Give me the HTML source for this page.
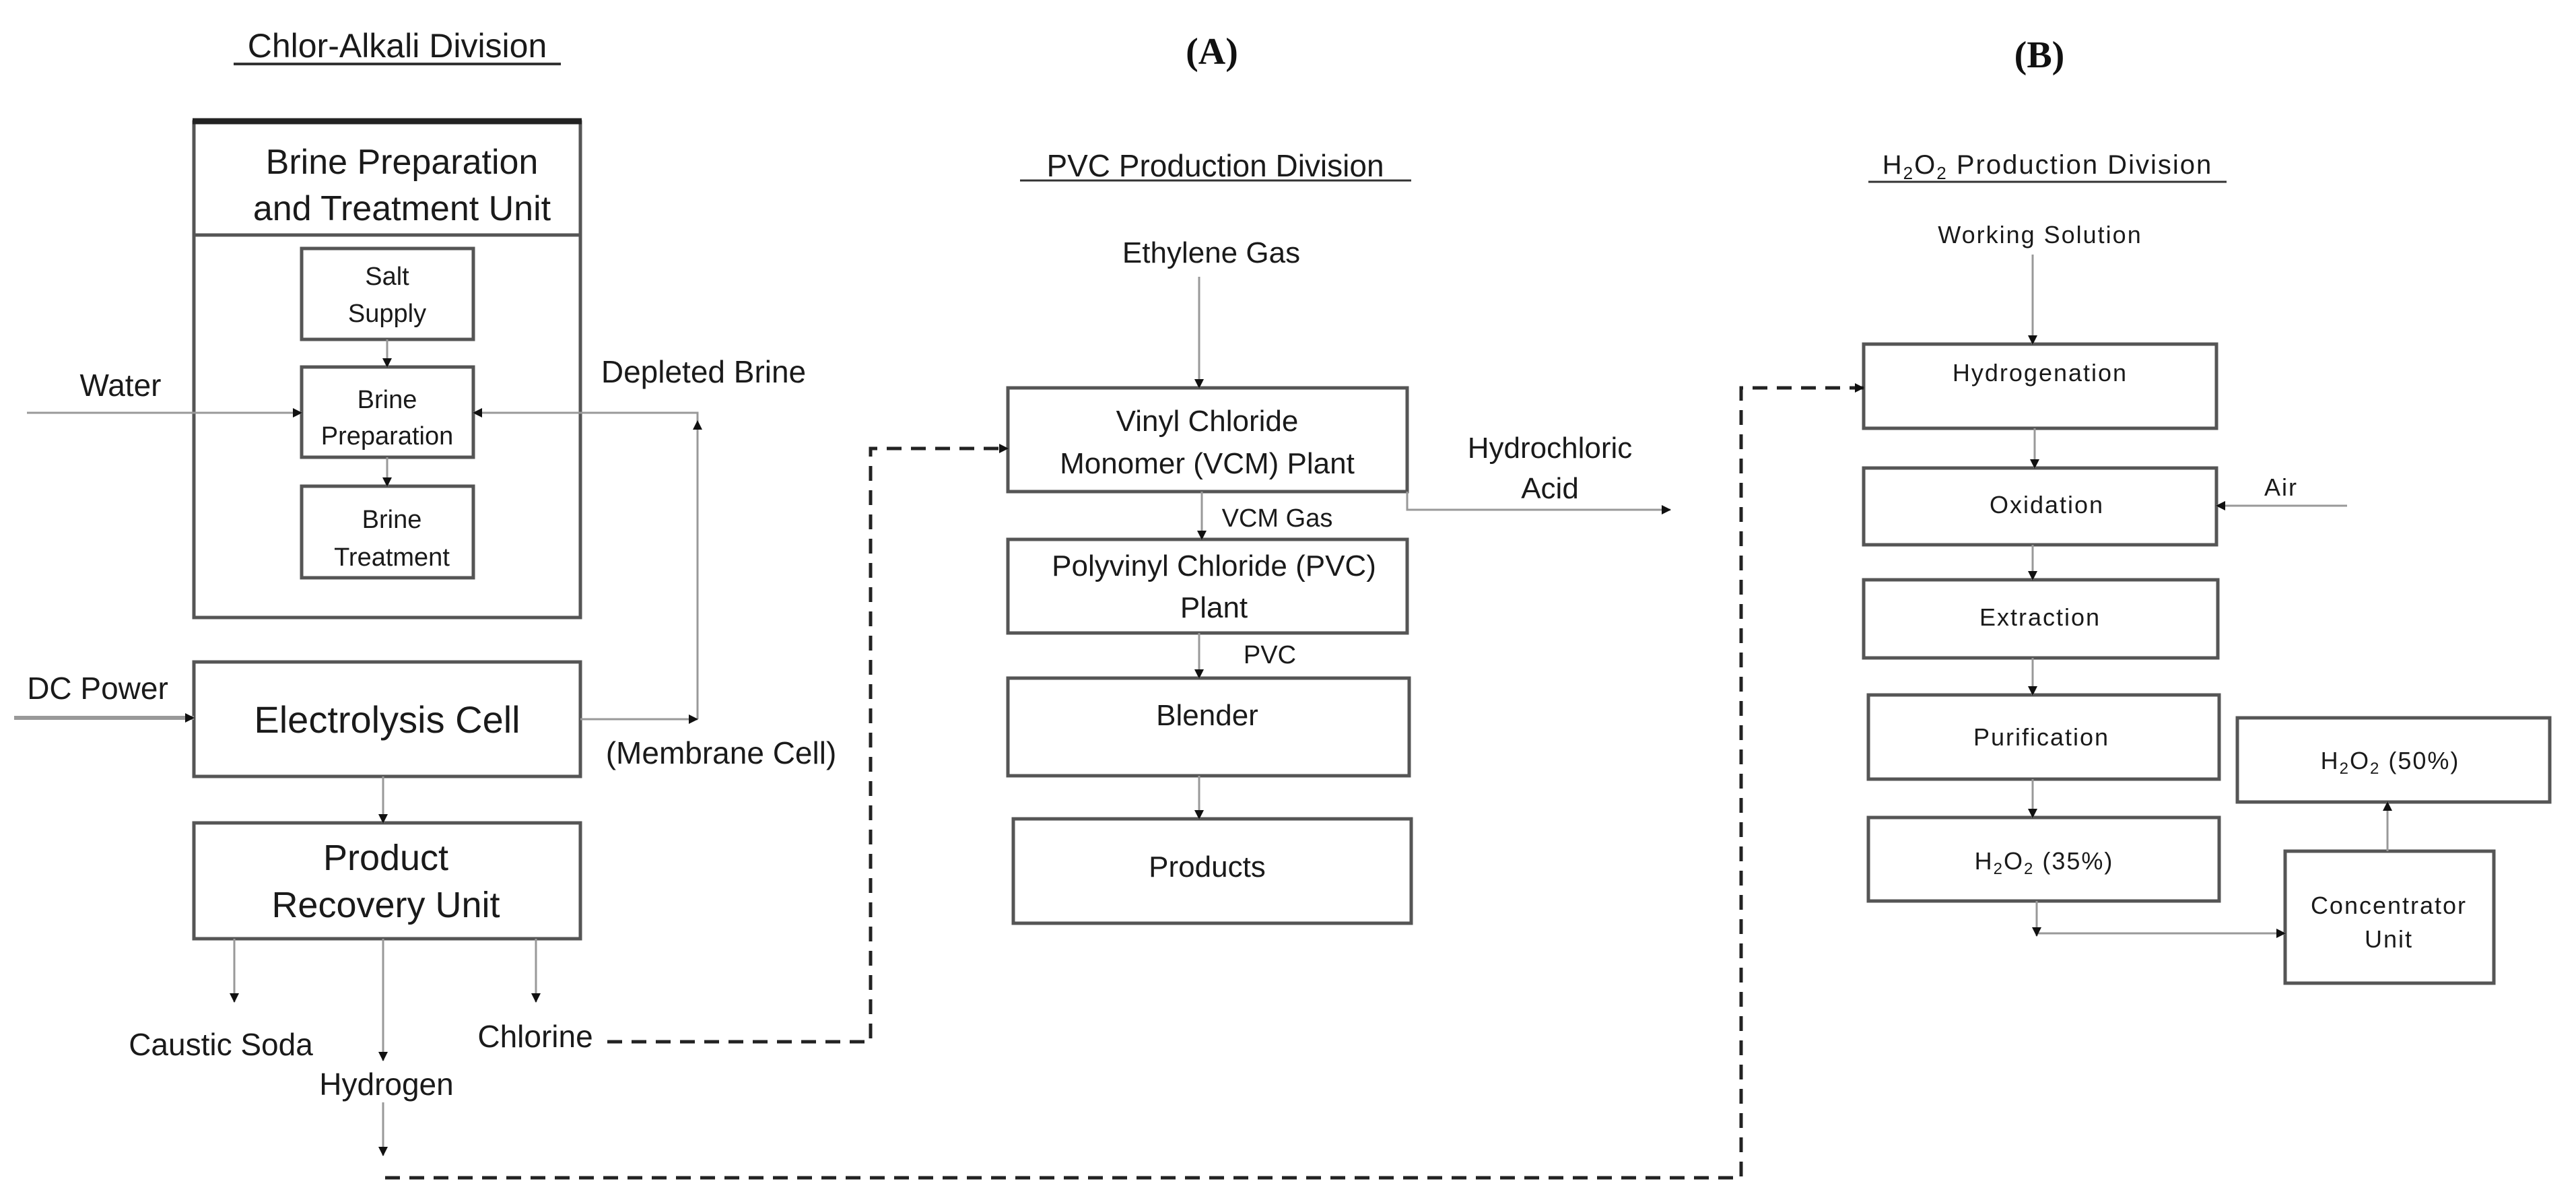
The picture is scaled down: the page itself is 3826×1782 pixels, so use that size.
<!DOCTYPE html>
<html><head><meta charset="utf-8"><style>
html,body{margin:0;padding:0;background:#fff;}
svg{display:block;}
.n{font-family:"Liberation Sans Narrow","Liberation Sans",sans-serif;fill:#1a1a1a;}
.s{font-family:"Liberation Sans",sans-serif;fill:#1a1a1a;}
.b{font-family:"Liberation Sans",sans-serif;fill:#1a1a1a;letter-spacing:2px;}
</style></head><body>
<svg width="3826" height="1782" viewBox="0 0 3826 1782" xmlns="http://www.w3.org/2000/svg">
<defs>
<marker id="a" markerWidth="8" markerHeight="8" refX="7" refY="4" orient="auto" markerUnits="userSpaceOnUse">
<path d="M0,0 L8,4 L0,8 z" fill="#111"/></marker>
<marker id="A" markerWidth="14" markerHeight="14" refX="13" refY="7" orient="auto" markerUnits="userSpaceOnUse">
<path d="M0,0 L14,7 L0,14 z" fill="#111"/></marker>
</defs>
<g fill="none" stroke="#555" stroke-width="5">
<rect x="288" y="181" width="574" height="736"/>
<line x1="288" y1="349" x2="862" y2="349"/>
<rect x="448" y="369" width="255" height="135"/>
<rect x="448" y="545" width="255" height="134"/>
<rect x="448" y="722" width="255" height="136"/>
<rect x="288" y="983" width="574" height="170"/>
<rect x="288" y="1222" width="574" height="172"/>
<rect x="1497" y="576" width="593" height="154"/>
<rect x="1497" y="801" width="593" height="139"/>
<rect x="1497" y="1007" width="596" height="145"/>
<rect x="1505" y="1216" width="591" height="155"/>
<rect x="2768" y="511" width="524" height="125"/>
<rect x="2768" y="695" width="524" height="114"/>
<rect x="2768" y="861" width="526" height="116"/>
<rect x="2775" y="1032" width="521" height="125"/>
<rect x="2775" y="1214" width="521" height="124"/>
<rect x="3323" y="1066" width="464" height="125"/>
<rect x="3394" y="1264" width="310" height="196"/>
</g>
<line x1="286" y1="180" x2="864" y2="180" stroke="#222" stroke-width="9"/>
<g fill="none" stroke="#999" stroke-width="3">
<line x1="575" y1="504" x2="575" y2="545" marker-end="url(#A)"/>
<line x1="575" y1="679" x2="575" y2="722" marker-end="url(#A)"/>
<line x1="40" y1="613" x2="448" y2="613" marker-end="url(#A)"/>
<polyline points="1036,1068 1036,613 703,613" marker-end="url(#A)"/>
<line x1="1036" y1="700" x2="1036" y2="625" marker-end="url(#A)"/>
<line x1="21" y1="1066" x2="288" y2="1066" stroke-width="6" marker-end="url(#A)"/>
<line x1="862" y1="1068" x2="1036" y2="1068" marker-end="url(#A)"/>
<line x1="569" y1="1153" x2="569" y2="1222" marker-end="url(#A)"/>
<line x1="348" y1="1394" x2="348" y2="1488" marker-end="url(#A)"/>
<line x1="569" y1="1394" x2="569" y2="1575" marker-end="url(#A)"/>
<line x1="796" y1="1394" x2="796" y2="1488" marker-end="url(#A)"/>
<line x1="569" y1="1637" x2="569" y2="1716" marker-end="url(#A)"/>
<line x1="1781" y1="411" x2="1781" y2="576" marker-end="url(#A)"/>
<line x1="1785" y1="730" x2="1785" y2="801" marker-end="url(#A)"/>
<line x1="1781" y1="940" x2="1781" y2="1007" marker-end="url(#A)"/>
<line x1="1781" y1="1152" x2="1781" y2="1216" marker-end="url(#A)"/>
<polyline points="2090,730 2090,757 2481,757" marker-end="url(#A)"/>
<line x1="3019" y1="378" x2="3019" y2="511" marker-end="url(#A)"/>
<line x1="3022" y1="636" x2="3022" y2="695" marker-end="url(#A)"/>
<line x1="3019" y1="809" x2="3019" y2="861" marker-end="url(#A)"/>
<line x1="3019" y1="977" x2="3019" y2="1032" marker-end="url(#A)"/>
<line x1="3019" y1="1157" x2="3019" y2="1214" marker-end="url(#A)"/>
<line x1="3486" y1="751" x2="3292" y2="751" marker-end="url(#A)"/>
<polyline points="3025,1338 3025,1386 3394,1386" marker-end="url(#A)"/>
<line x1="3025" y1="1370" x2="3025" y2="1390" marker-end="url(#A)"/>
<line x1="3546" y1="1264" x2="3546" y2="1191" marker-end="url(#A)"/>
</g>
<g fill="none" stroke="#222" stroke-width="5" stroke-dasharray="22,14">
<polyline points="902,1547 1293,1547 1293,666 1497,666" marker-end="url(#A)"/>
<polyline points="572,1749 2586,1749 2586,576 2768,576" marker-end="url(#A)"/>
</g>
<g class="n" font-size="50">
<text x="590" y="85" text-anchor="middle">Chlor-Alkali Division</text>
<text x="597" y="258" text-anchor="middle" font-size="52">Brine Preparation</text>
<text x="597" y="327" text-anchor="middle" font-size="52">and Treatment Unit</text>
<text x="575" y="423" text-anchor="middle" font-size="38">Salt</text>
<text x="575" y="478" text-anchor="middle" font-size="38">Supply</text>
<text x="575" y="606" text-anchor="middle" font-size="38">Brine</text>
<text x="575" y="660" text-anchor="middle" font-size="38">Preparation</text>
<text x="582" y="784" text-anchor="middle" font-size="38">Brine</text>
<text x="582" y="840" text-anchor="middle" font-size="38">Treatment</text>
<text x="179" y="588" text-anchor="middle" font-size="46">Water</text>
<text x="1045" y="568" text-anchor="middle" font-size="46">Depleted Brine</text>
<text x="145" y="1038" text-anchor="middle" font-size="46">DC Power</text>
<text x="575" y="1088" text-anchor="middle" font-size="56">Electrolysis Cell</text>
<text x="1071" y="1134" text-anchor="middle" font-size="46">(Membrane Cell)</text>
<text x="573" y="1292" text-anchor="middle" font-size="54">Product</text>
<text x="573" y="1362" text-anchor="middle" font-size="54">Recovery Unit</text>
<text x="328" y="1567" text-anchor="middle" font-size="46">Caustic Soda</text>
<text x="574" y="1626" text-anchor="middle" font-size="46">Hydrogen</text>
<text x="795" y="1555" text-anchor="middle" font-size="46">Chlorine</text>
</g>
<line x1="347" y1="95" x2="833" y2="95" stroke="#333" stroke-width="4"/>
<g font-family="Liberation Serif,serif" font-weight="bold" font-size="56" fill="#111" text-anchor="middle">
<text x="1800" y="95">(A)</text>
<text x="3029" y="100">(B)</text>
</g>
<g class="s" font-size="44" text-anchor="middle">
<text x="1805" y="262" font-size="46">PVC Production Division</text>
<text x="1799" y="390">Ethylene Gas</text>
<text x="1793" y="640">Vinyl Chloride</text>
<text x="1793" y="703">Monomer (VCM)  Plant</text>
<text x="2302" y="680">Hydrochloric</text>
<text x="2302" y="740">Acid</text>
<text x="1897" y="782" font-size="38">VCM Gas</text>
<text x="1803" y="855">Polyvinyl Chloride (PVC)</text>
<text x="1803" y="917">Plant</text>
<text x="1886" y="985" font-size="38">PVC</text>
<text x="1793" y="1077">Blender</text>
<text x="1793" y="1302">Products</text>
</g>
<line x1="1515" y1="268" x2="2096" y2="268" stroke="#333" stroke-width="3"/>
<g class="b" font-size="36" text-anchor="middle">
<text x="3041" y="258" font-size="40">H<tspan font-size="26" dy="8">2</tspan><tspan dy="-8">O</tspan><tspan font-size="26" dy="8">2</tspan><tspan dy="-8"> Production Division</tspan></text>
<text x="3030" y="361">Working Solution</text>
<text x="3030" y="566">Hydrogenation</text>
<text x="3040" y="762">Oxidation</text>
<text x="3030" y="929">Extraction</text>
<text x="3032" y="1107">Purification</text>
<text x="3036" y="1291">H<tspan font-size="24" dy="7">2</tspan><tspan dy="-7">O</tspan><tspan font-size="24" dy="7">2</tspan><tspan dy="-7"> (35%)</tspan></text>
<text x="3550" y="1142">H<tspan font-size="24" dy="7">2</tspan><tspan dy="-7">O</tspan><tspan font-size="24" dy="7">2</tspan><tspan dy="-7"> (50%)</tspan></text>
<text x="3548" y="1357">Concentrator</text>
<text x="3548" y="1407">Unit</text>
<text x="3388" y="736">Air</text>
</g>
<line x1="2775" y1="270" x2="3307" y2="270" stroke="#333" stroke-width="3"/>
</svg>
</body></html>
